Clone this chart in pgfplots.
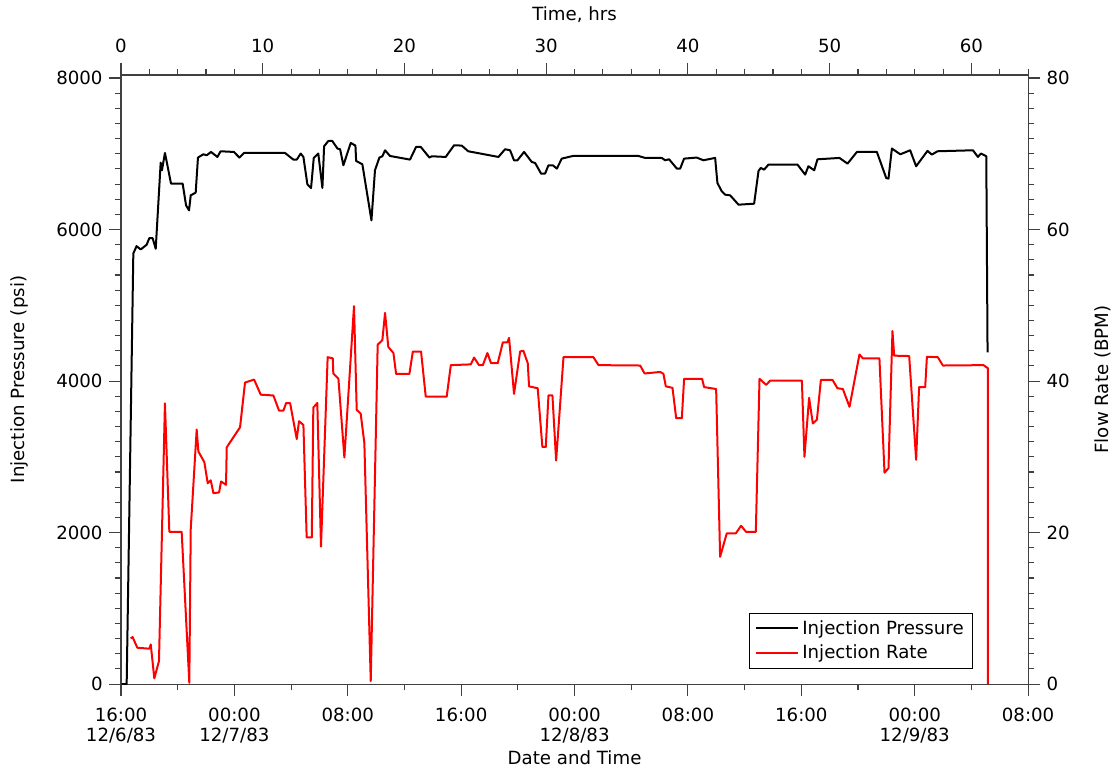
\documentclass[border=0pt]{standalone}
\usepackage{fontspec}
\setmainfont{DejaVu Sans}
\usepackage{pgfplots}
\pgfplotsset{compat=1.18}

% pressure (psi) against elapsed time (hrs)
\pgfplotstableread{
h P
0.05 0
0.40 0
0.87 5685
1.10 5781
1.39 5737
1.81 5799
2.00 5887
2.23 5887
2.45 5746
2.80 6884
2.89 6782
3.10 7011
3.53 6606
4.35 6606
4.59 6319
4.80 6253
4.92 6451
5.27 6487
5.43 6950
5.81 6993
6.05 6980
6.35 7024
6.80 6958
7.03 7033
7.97 7024
8.35 6950
8.68 7011
11.57 7011
12.16 6923
12.40 6923
12.68 7003
12.87 6958
13.15 6597
13.41 6548
13.60 6944
13.92 7003
14.21 6548
14.33 7099
14.63 7169
14.91 7169
15.27 7069
15.46 7060
15.69 6848
16.21 7143
16.54 7108
16.59 6905
17.03 6861
17.67 6121
17.92 6782
18.23 6950
18.44 6967
18.63 7046
18.98 6971
20.39 6923
20.82 7090
21.15 7090
21.76 6950
21.93 6967
22.91 6958
23.50 7112
24.04 7108
24.50 7033
26.63 6958
27.10 7060
27.45 7046
27.73 6914
27.97 6914
28.44 7024
28.98 6892
29.22 6878
29.64 6738
29.92 6738
30.16 6848
30.47 6848
30.75 6804
31.10 6936
31.88 6971
36.51 6971
36.98 6945
38.16 6945
38.39 6914
38.67 6927
39.22 6804
39.45 6804
39.73 6936
40.62 6950
41.09 6914
41.92 6945
42.08 6614
42.39 6504
42.63 6460
42.98 6451
43.57 6328
44.67 6341
44.98 6773
45.14 6813
45.38 6791
45.68 6857
47.73 6857
48.27 6725
48.50 6835
48.91 6782
49.14 6927
50.69 6945
51.26 6870
51.92 7024
53.33 7024
53.99 6680
54.15 6672
54.39 7069
54.98 6993
55.68 7046
56.10 6835
56.90 7038
57.21 6989
57.61 7033
60.11 7046
60.46 6958
60.67 7003
61.05 6967
61.14 4380
}\pressure

% injection rate (BPM) against elapsed time (hrs)
\pgfplotstableread{
h R
0.68 6.04
0.82 6.2
1.15 4.8
2.00 4.67
2.10 5.24
2.35 0.75
2.68 3.04
3.10 37.06
3.41 20.1
4.28 20.1
4.82 0.17
4.92 20.45
5.34 33.6
5.46 30.7
5.88 29.3
6.12 26.5
6.33 26.9
6.52 25.2
6.92 25.3
7.06 26.75
7.41 26.3
7.46 31.25
8.40 33.9
8.75 39.8
9.39 40.2
9.86 38.2
10.75 38.1
11.15 36.1
11.46 36.1
11.65 37.1
11.93 37.1
12.40 32.35
12.56 34.7
12.87 34.2
13.10 19.35
13.46 19.35
13.57 36.5
13.85 37.1
14.11 18.15
14.58 43.15
14.94 43.0
14.98 41.0
15.34 40.3
15.76 29.9
16.44 49.9
16.63 36.2
16.91 35.7
17.17 31.8
17.62 0.4
18.11 44.8
18.44 45.4
18.63 49.0
18.86 44.5
19.22 43.7
19.41 40.95
20.35 40.95
20.59 43.9
21.17 43.9
21.50 37.95
22.98 37.95
23.27 42.1
24.68 42.2
24.91 43.1
25.26 42.1
25.53 42.1
25.85 43.7
26.11 42.35
26.58 42.35
26.94 45.1
27.26 45.1
27.38 45.7
27.73 38.3
28.16 43.9
28.39 44.0
28.70 42.35
28.79 39.3
29.40 39.05
29.73 31.3
29.97 31.3
30.16 38.1
30.44 38.1
30.70 29.5
31.22 43.15
33.33 43.15
33.69 42.1
36.63 42.05
36.94 41.0
38.04 41.2
38.27 40.95
38.44 39.3
38.91 39.1
39.17 35.1
39.57 35.1
39.73 40.3
41.00 40.3
41.14 39.2
41.99 38.95
42.27 16.8
42.74 19.9
43.38 19.9
43.75 20.9
44.10 20.1
44.79 20.1
45.05 40.3
45.52 39.5
45.80 40.05
48.04 40.05
48.22 30.0
48.55 37.8
48.81 34.4
49.10 34.9
49.38 40.15
50.20 40.15
50.55 39.05
50.93 38.95
51.40 36.6
52.10 43.5
52.34 43.0
53.51 43.0
53.87 27.9
54.15 28.5
54.43 46.6
54.55 43.35
55.61 43.3
56.10 29.6
56.31 39.2
56.74 39.2
56.86 43.2
57.63 43.15
57.99 42.05
60.85 42.1
61.16 41.7
61.17 0
}\rate

\pgfplotsset{
  every axis/.append style={
    scale only axis,
    width=498.9pt, height=335pt,
    xmin=0, xmax=64,
    tick align=outside,
    major tick length=6.6pt,
    minor tick length=3.5pt,
    axis line style={black!75, line width=0.6pt},
    every tick/.style={black!75, line width=0.6pt},
    tick label style={font=\fontsize{10}{10.5}\selectfont},
    label style={font=\fontsize{10}{12}\selectfont},
    /pgf/number format/assume math mode=true,
    /pgf/number format/1000 sep={},
  },
}

\begin{document}
\begin{tikzpicture}
\useasboundingbox (-66.55pt,-48.4pt) rectangle (547.8pt,376.25pt);

\begin{axis}[
  axis x line*=bottom,
  axis y line*=left,
  ymin=0, ymax=8040,
  ytick={0,2000,4000,6000,8000},
  minor y tick num=9,
  xtick={0,8,...,64},
  minor x tick num=1,
  xticklabels={{16:00\\12/6/83},{00:00\\12/7/83},08:00,16:00,{00:00\\12/8/83},08:00,16:00,{00:00\\12/9/83},08:00},
  xticklabel style={align=center, yshift=-3pt, font=\fontsize{10}{11}\selectfont},
  xlabel={Date and Time},
  ylabel={Injection Pressure (psi)},
  x label style={at={(axis description cs:0.5,-0.1215)}, anchor=center},
  y label style={at={(axis description cs:-0.1114,0.5)}, anchor=center},
]
\addplot[black, line width=1.1pt, line join=round] table[x=h, y=P] {\pressure};
\end{axis}

\begin{axis}[
  axis x line*=top,
  axis y line*=right,
  ymin=0, ymax=80.4,
  ytick={0,20,40,60,80},
  minor y tick num=9,
  xtick={0,10,...,60},
  minor xtick={2,4,...,64},
  xticklabel style={yshift=2pt},
  xlabel={Time, hrs},
  ylabel={Flow Rate (BPM)},
  x label style={at={(axis description cs:0.5,1.0985)}, anchor=center},
  y label style={at={(axis description cs:1.0827,0.5)}, anchor=center, rotate=0},
  legend style={at={(0.9394,0.0246)}, anchor=south east, draw=black,
    font=\fontsize{10}{12}\selectfont, cells={anchor=west},
    inner xsep=3pt, inner ysep=2pt, row sep=0.5pt},
  legend image code/.code={\draw[#1] (0pt,0pt) -- (23pt,0pt);},
]
\addlegendimage{black, line width=1.1pt}
\addlegendentry{Injection Pressure}
\addplot[red, line width=1.1pt, line join=round] table[x=h, y=R] {\rate};
\addlegendentry{Injection Rate}
\end{axis}
\end{tikzpicture}
\end{document}
